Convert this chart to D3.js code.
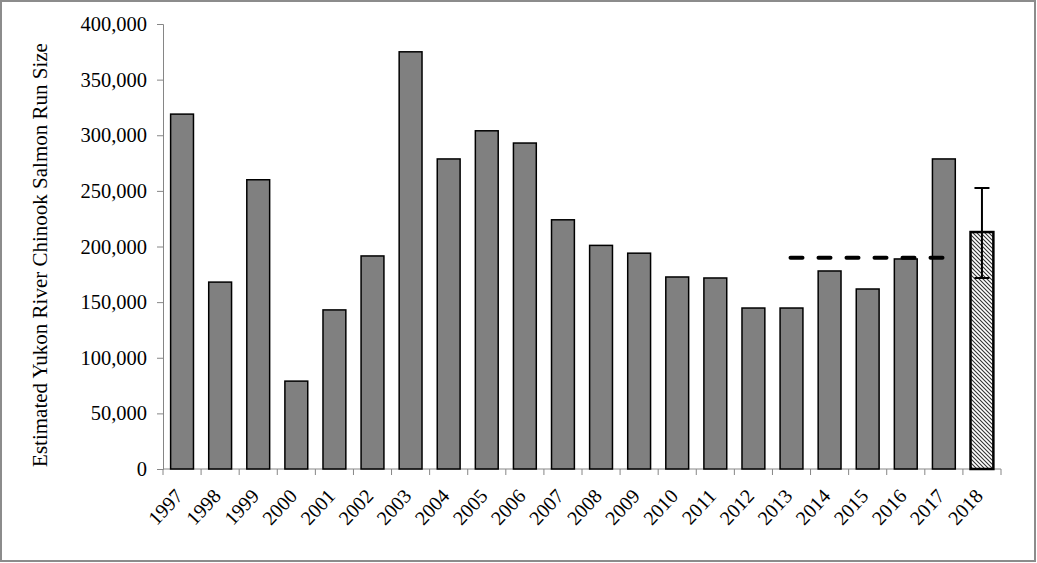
<!DOCTYPE html>
<html><head><meta charset="utf-8">
<script src="https://cdn.jsdelivr.net/npm/d3@7"></script>
<style>body{margin:0;background:#fff}svg{display:block}</style>
</head><body><svg id="c" width="1037" height="563"></svg>
<script>
const years = ["1997","1998","1999","2000","2001","2002","2003","2004","2005","2006","2007","2008","2009","2010","2011","2012","2013","2014","2015","2016","2017","2018"];
const runSize = [319000,168000,260000,79000,143000,191500,375000,278700,304000,293000,224000,201000,194000,172600,171700,144700,144700,178000,161800,188800,278700,213000];
const estimateYear = "2018";
const errorLow = 171700, errorHigh = 252600;
const avgStart = "2013", avgEnd = "2017", avgValue = 190000;
const yTicks = [0,50000,100000,150000,200000,250000,300000,350000,400000];
const yLabel = "Estimated Yukon River Chinook Salmon Run Size";

(function(){
const svg = d3.select("#c");
const font = "'Liberation Serif','Times New Roman',serif";
svg.append("rect").attr("x",1).attr("y",1).attr("width",1034).attr("height",560)
  .attr("fill","#fff").attr("stroke","#8c8c8c").attr("stroke-width",2);

const defs = svg.append("defs");
const pat = defs.append("pattern").attr("id","hatch").attr("patternUnits","userSpaceOnUse")
  .attr("width",4).attr("height",4);
pat.append("rect").attr("width",4).attr("height",4).attr("fill","#fff");
pat.append("path").attr("d","M-1,-1 L5,5 M-1,3 L1,5 M3,-1 L5,1").attr("stroke","#333").attr("stroke-width",1.1);

const L=163, R=1001, T=24, B=469;
const x = d3.scaleBand().domain(years).range([L,R]).paddingInner(0.4).paddingOuter(0.2);
const y = d3.scaleLinear().domain([0,400000]).range([B,T]);

const ya = svg.append("g").attr("transform",`translate(${L},0)`)
  .call(d3.axisLeft(y).tickValues(yTicks).tickSize(6).tickPadding(10).tickFormat(d3.format(",")));
ya.selectAll("path,line").attr("stroke","#868686");
ya.selectAll("text").attr("font-family",font).attr("font-size","20.5px").attr("fill","#000");

const xa = svg.append("g").attr("transform",`translate(0,${B})`);
xa.append("line").attr("x1",L).attr("x2",R).attr("stroke","#868686");
const step = x.step();
xa.selectAll("line.t").data(d3.range(years.length+1)).join("line").attr("class","t")
  .attr("x1",i=>L+i*step).attr("x2",i=>L+i*step).attr("y1",0).attr("y2",6).attr("stroke","#868686");
xa.selectAll("text").data(years).join("text")
  .attr("transform",d=>`translate(${x(d)+x.bandwidth()/2+2},${28}) rotate(-47)`)
  .attr("text-anchor","end")
  .attr("font-family",font).attr("font-size","20px").text(d=>d);

svg.selectAll("rect.bar").data(years).join("rect").attr("class","bar")
  .attr("x",d=>x(d)).attr("width",x.bandwidth())
  .attr("y",(d,i)=>y(runSize[i])).attr("height",(d,i)=>B-y(runSize[i]))
  .attr("fill",d=>d===estimateYear?"url(#hatch)":"#808080")
  .attr("stroke","#000").attr("stroke-width",d=>d===estimateYear?2.5:1.5);

const ex = x(estimateYear)+x.bandwidth()/2;
svg.append("line").attr("x1",ex).attr("x2",ex).attr("y1",y(errorHigh)).attr("y2",y(errorLow)).attr("stroke","#000").attr("stroke-width",2);
[errorHigh,errorLow].forEach(v=>svg.append("line").attr("x1",ex-7.5).attr("x2",ex+7.5).attr("y1",y(v)).attr("y2",y(v)).attr("stroke","#000").attr("stroke-width",2));

svg.append("line").attr("x1",x(avgStart)+x.bandwidth()/2-1).attr("x2",x(avgEnd)+x.bandwidth()/2+1)
  .attr("y1",y(avgValue)).attr("y2",y(avgValue))
  .attr("stroke","#000").attr("stroke-width",4).attr("stroke-dasharray","12,16").attr("stroke-linecap","round");

svg.append("text").attr("transform",`translate(47,255) rotate(-90)`)
  .attr("text-anchor","middle").attr("font-family",font).attr("font-size","21px").text(yLabel);
})();
</script></body></html>
